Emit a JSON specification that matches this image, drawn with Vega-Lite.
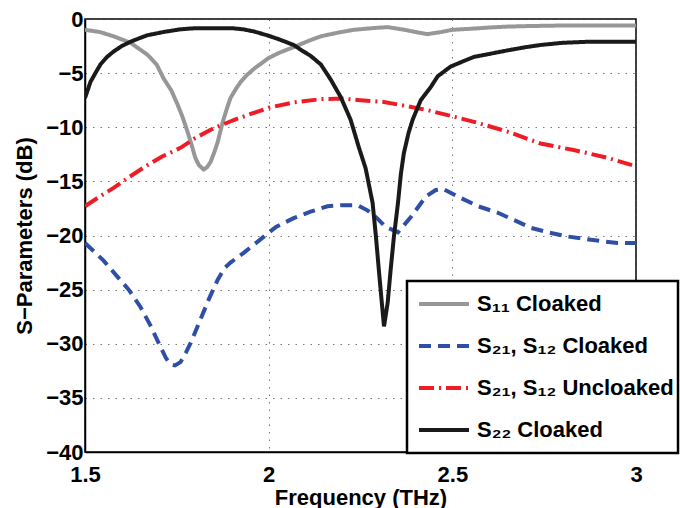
{
  "$schema": "https://vega.github.io/schema/vega-lite/v6.json",
  "width": 551,
  "height": 433,
  "autosize": {"type": "none"},
  "padding": {"left": 85, "top": 19, "right": 44, "bottom": 56},
  "background": "white",
  "config": {
    "font": "Liberation Sans",
    "view": {"stroke": "black", "strokeWidth": 1.5},
    "axis": {
      "labelFont": "Liberation Sans",
      "labelFontSize": 22,
      "labelFontWeight": "bold",
      "labelColor": "black",
      "titleFont": "Liberation Sans",
      "titleFontSize": 22,
      "titleFontWeight": "bold",
      "titleColor": "black",
      "domainColor": "black",
      "domainWidth": 1.5,
      "ticks": false,
      "gridColor": "#555555",
      "gridDash": [1.5, 6],
      "gridWidth": 1,
      "gridOpacity": 0.8
    }
  },
  "data": {
    "values": [
      {"s": "S₁₁ Cloaked", "f": 1.5, "db": -1.0},
      {"s": "S₁₁ Cloaked", "f": 1.54, "db": -1.2},
      {"s": "S₁₁ Cloaked", "f": 1.578, "db": -1.6},
      {"s": "S₁₁ Cloaked", "f": 1.624, "db": -2.2},
      {"s": "S₁₁ Cloaked", "f": 1.67, "db": -3.3},
      {"s": "S₁₁ Cloaked", "f": 1.695, "db": -4.2},
      {"s": "S₁₁ Cloaked", "f": 1.714, "db": -5.5},
      {"s": "S₁₁ Cloaked", "f": 1.735, "db": -6.6},
      {"s": "S₁₁ Cloaked", "f": 1.752, "db": -7.9},
      {"s": "S₁₁ Cloaked", "f": 1.765, "db": -9.0},
      {"s": "S₁₁ Cloaked", "f": 1.779, "db": -10.4},
      {"s": "S₁₁ Cloaked", "f": 1.79, "db": -11.6},
      {"s": "S₁₁ Cloaked", "f": 1.8, "db": -12.8},
      {"s": "S₁₁ Cloaked", "f": 1.81, "db": -13.5},
      {"s": "S₁₁ Cloaked", "f": 1.823, "db": -13.9},
      {"s": "S₁₁ Cloaked", "f": 1.832, "db": -13.7},
      {"s": "S₁₁ Cloaked", "f": 1.842, "db": -13.2},
      {"s": "S₁₁ Cloaked", "f": 1.852, "db": -12.3},
      {"s": "S₁₁ Cloaked", "f": 1.861, "db": -11.4},
      {"s": "S₁₁ Cloaked", "f": 1.875, "db": -9.5},
      {"s": "S₁₁ Cloaked", "f": 1.886, "db": -8.3},
      {"s": "S₁₁ Cloaked", "f": 1.896, "db": -7.3},
      {"s": "S₁₁ Cloaked", "f": 1.91, "db": -6.5},
      {"s": "S₁₁ Cloaked", "f": 1.924, "db": -5.8},
      {"s": "S₁₁ Cloaked", "f": 1.94, "db": -5.2},
      {"s": "S₁₁ Cloaked", "f": 1.96, "db": -4.6},
      {"s": "S₁₁ Cloaked", "f": 1.98, "db": -4.1},
      {"s": "S₁₁ Cloaked", "f": 2.0, "db": -3.6},
      {"s": "S₁₁ Cloaked", "f": 2.03, "db": -3.1},
      {"s": "S₁₁ Cloaked", "f": 2.068, "db": -2.6},
      {"s": "S₁₁ Cloaked", "f": 2.11, "db": -2.0},
      {"s": "S₁₁ Cloaked", "f": 2.142, "db": -1.6},
      {"s": "S₁₁ Cloaked", "f": 2.19, "db": -1.25},
      {"s": "S₁₁ Cloaked", "f": 2.232, "db": -1.0},
      {"s": "S₁₁ Cloaked", "f": 2.28, "db": -0.85},
      {"s": "S₁₁ Cloaked", "f": 2.324, "db": -0.75},
      {"s": "S₁₁ Cloaked", "f": 2.37, "db": -1.0},
      {"s": "S₁₁ Cloaked", "f": 2.4, "db": -1.2},
      {"s": "S₁₁ Cloaked", "f": 2.432, "db": -1.4},
      {"s": "S₁₁ Cloaked", "f": 2.47, "db": -1.2},
      {"s": "S₁₁ Cloaked", "f": 2.5, "db": -1.0},
      {"s": "S₁₁ Cloaked", "f": 2.55, "db": -0.9},
      {"s": "S₁₁ Cloaked", "f": 2.605, "db": -0.78},
      {"s": "S₁₁ Cloaked", "f": 2.65, "db": -0.7},
      {"s": "S₁₁ Cloaked", "f": 2.71, "db": -0.65},
      {"s": "S₁₁ Cloaked", "f": 2.8, "db": -0.6},
      {"s": "S₁₁ Cloaked", "f": 2.9, "db": -0.6},
      {"s": "S₁₁ Cloaked", "f": 3.0, "db": -0.6},

      {"s": "S₂₁, S₁₂ Cloaked", "f": 1.5, "db": -20.7},
      {"s": "S₂₁, S₁₂ Cloaked", "f": 1.55, "db": -22.3},
      {"s": "S₂₁, S₁₂ Cloaked", "f": 1.588, "db": -23.8},
      {"s": "S₂₁, S₁₂ Cloaked", "f": 1.619, "db": -25.0},
      {"s": "S₂₁, S₁₂ Cloaked", "f": 1.651, "db": -26.6},
      {"s": "S₂₁, S₁₂ Cloaked", "f": 1.678, "db": -28.3},
      {"s": "S₂₁, S₁₂ Cloaked", "f": 1.7, "db": -29.9},
      {"s": "S₂₁, S₁₂ Cloaked", "f": 1.72, "db": -31.3},
      {"s": "S₂₁, S₁₂ Cloaked", "f": 1.733, "db": -31.9},
      {"s": "S₂₁, S₁₂ Cloaked", "f": 1.745, "db": -32.0},
      {"s": "S₂₁, S₁₂ Cloaked", "f": 1.76, "db": -31.7},
      {"s": "S₂₁, S₁₂ Cloaked", "f": 1.775, "db": -30.8},
      {"s": "S₂₁, S₁₂ Cloaked", "f": 1.788, "db": -29.9},
      {"s": "S₂₁, S₁₂ Cloaked", "f": 1.81, "db": -28.1},
      {"s": "S₂₁, S₁₂ Cloaked", "f": 1.837, "db": -25.9},
      {"s": "S₂₁, S₁₂ Cloaked", "f": 1.861, "db": -24.1},
      {"s": "S₂₁, S₁₂ Cloaked", "f": 1.88, "db": -23.0},
      {"s": "S₂₁, S₁₂ Cloaked", "f": 1.896, "db": -22.5},
      {"s": "S₂₁, S₁₂ Cloaked", "f": 1.932, "db": -21.6},
      {"s": "S₂₁, S₁₂ Cloaked", "f": 1.987, "db": -20.1},
      {"s": "S₂₁, S₁₂ Cloaked", "f": 2.02, "db": -19.2},
      {"s": "S₂₁, S₁₂ Cloaked", "f": 2.068, "db": -18.4},
      {"s": "S₂₁, S₁₂ Cloaked", "f": 2.114, "db": -17.8},
      {"s": "S₂₁, S₁₂ Cloaked", "f": 2.16, "db": -17.3},
      {"s": "S₂₁, S₁₂ Cloaked", "f": 2.2, "db": -17.2},
      {"s": "S₂₁, S₁₂ Cloaked", "f": 2.242, "db": -17.2},
      {"s": "S₂₁, S₁₂ Cloaked", "f": 2.27, "db": -17.7},
      {"s": "S₂₁, S₁₂ Cloaked", "f": 2.295, "db": -18.4},
      {"s": "S₂₁, S₁₂ Cloaked", "f": 2.318, "db": -19.2},
      {"s": "S₂₁, S₁₂ Cloaked", "f": 2.352, "db": -19.7},
      {"s": "S₂₁, S₁₂ Cloaked", "f": 2.387, "db": -18.3},
      {"s": "S₂₁, S₁₂ Cloaked", "f": 2.428, "db": -16.4},
      {"s": "S₂₁, S₁₂ Cloaked", "f": 2.455, "db": -15.8},
      {"s": "S₂₁, S₁₂ Cloaked", "f": 2.475, "db": -15.7},
      {"s": "S₂₁, S₁₂ Cloaked", "f": 2.515, "db": -16.4},
      {"s": "S₂₁, S₁₂ Cloaked", "f": 2.57, "db": -17.3},
      {"s": "S₂₁, S₁₂ Cloaked", "f": 2.624, "db": -17.9},
      {"s": "S₂₁, S₁₂ Cloaked", "f": 2.67, "db": -18.6},
      {"s": "S₂₁, S₁₂ Cloaked", "f": 2.714, "db": -19.3},
      {"s": "S₂₁, S₁₂ Cloaked", "f": 2.76, "db": -19.7},
      {"s": "S₂₁, S₁₂ Cloaked", "f": 2.815, "db": -20.1},
      {"s": "S₂₁, S₁₂ Cloaked", "f": 2.877, "db": -20.4},
      {"s": "S₂₁, S₁₂ Cloaked", "f": 2.95, "db": -20.7},
      {"s": "S₂₁, S₁₂ Cloaked", "f": 3.0, "db": -20.7},

      {"s": "S₂₁, S₁₂ Uncloaked", "f": 1.5, "db": -17.3},
      {"s": "S₂₁, S₁₂ Uncloaked", "f": 1.54, "db": -16.4},
      {"s": "S₂₁, S₁₂ Uncloaked", "f": 1.578, "db": -15.6},
      {"s": "S₂₁, S₁₂ Uncloaked", "f": 1.62, "db": -14.6},
      {"s": "S₂₁, S₁₂ Uncloaked", "f": 1.67, "db": -13.5},
      {"s": "S₂₁, S₁₂ Uncloaked", "f": 1.71, "db": -12.7},
      {"s": "S₂₁, S₁₂ Uncloaked", "f": 1.76, "db": -11.9},
      {"s": "S₂₁, S₁₂ Uncloaked", "f": 1.8, "db": -11.0},
      {"s": "S₂₁, S₁₂ Uncloaked", "f": 1.85, "db": -10.1},
      {"s": "S₂₁, S₁₂ Uncloaked", "f": 1.9, "db": -9.4},
      {"s": "S₂₁, S₁₂ Uncloaked", "f": 1.94, "db": -8.9},
      {"s": "S₂₁, S₁₂ Uncloaked", "f": 2.0, "db": -8.2},
      {"s": "S₂₁, S₁₂ Uncloaked", "f": 2.068, "db": -7.7},
      {"s": "S₂₁, S₁₂ Uncloaked", "f": 2.142, "db": -7.4},
      {"s": "S₂₁, S₁₂ Uncloaked", "f": 2.2, "db": -7.35},
      {"s": "S₂₁, S₁₂ Uncloaked", "f": 2.25, "db": -7.5},
      {"s": "S₂₁, S₁₂ Uncloaked", "f": 2.31, "db": -7.65},
      {"s": "S₂₁, S₁₂ Uncloaked", "f": 2.368, "db": -8.0},
      {"s": "S₂₁, S₁₂ Uncloaked", "f": 2.43, "db": -8.4},
      {"s": "S₂₁, S₁₂ Uncloaked", "f": 2.49, "db": -8.9},
      {"s": "S₂₁, S₁₂ Uncloaked", "f": 2.559, "db": -9.5},
      {"s": "S₂₁, S₁₂ Uncloaked", "f": 2.65, "db": -10.4},
      {"s": "S₂₁, S₁₂ Uncloaked", "f": 2.74, "db": -11.5},
      {"s": "S₂₁, S₁₂ Uncloaked", "f": 2.83, "db": -12.1},
      {"s": "S₂₁, S₁₂ Uncloaked", "f": 2.92, "db": -12.8},
      {"s": "S₂₁, S₁₂ Uncloaked", "f": 3.0, "db": -13.6},

      {"s": "S₂₂ Cloaked", "f": 1.5, "db": -7.3},
      {"s": "S₂₂ Cloaked", "f": 1.515, "db": -5.8},
      {"s": "S₂₂ Cloaked", "f": 1.53, "db": -4.9},
      {"s": "S₂₂ Cloaked", "f": 1.542, "db": -4.2},
      {"s": "S₂₂ Cloaked", "f": 1.56, "db": -3.5},
      {"s": "S₂₂ Cloaked", "f": 1.578, "db": -3.0},
      {"s": "S₂₂ Cloaked", "f": 1.6, "db": -2.5},
      {"s": "S₂₂ Cloaked", "f": 1.624, "db": -2.1},
      {"s": "S₂₂ Cloaked", "f": 1.65, "db": -1.75},
      {"s": "S₂₂ Cloaked", "f": 1.67, "db": -1.5},
      {"s": "S₂₂ Cloaked", "f": 1.714, "db": -1.2},
      {"s": "S₂₂ Cloaked", "f": 1.76, "db": -0.95},
      {"s": "S₂₂ Cloaked", "f": 1.8, "db": -0.85},
      {"s": "S₂₂ Cloaked", "f": 1.85, "db": -0.85},
      {"s": "S₂₂ Cloaked", "f": 1.9, "db": -0.85},
      {"s": "S₂₂ Cloaked", "f": 1.93, "db": -0.95},
      {"s": "S₂₂ Cloaked", "f": 1.96, "db": -1.15},
      {"s": "S₂₂ Cloaked", "f": 2.0, "db": -1.55},
      {"s": "S₂₂ Cloaked", "f": 2.03, "db": -1.9},
      {"s": "S₂₂ Cloaked", "f": 2.068, "db": -2.4},
      {"s": "S₂₂ Cloaked", "f": 2.09, "db": -2.9},
      {"s": "S₂₂ Cloaked", "f": 2.114, "db": -3.4},
      {"s": "S₂₂ Cloaked", "f": 2.142, "db": -4.2},
      {"s": "S₂₂ Cloaked", "f": 2.169, "db": -5.6},
      {"s": "S₂₂ Cloaked", "f": 2.196, "db": -7.2},
      {"s": "S₂₂ Cloaked", "f": 2.223, "db": -9.3},
      {"s": "S₂₂ Cloaked", "f": 2.245, "db": -11.8},
      {"s": "S₂₂ Cloaked", "f": 2.264, "db": -13.8},
      {"s": "S₂₂ Cloaked", "f": 2.283, "db": -17.0},
      {"s": "S₂₂ Cloaked", "f": 2.292, "db": -20.1},
      {"s": "S₂₂ Cloaked", "f": 2.3, "db": -23.2},
      {"s": "S₂₂ Cloaked", "f": 2.308, "db": -26.2},
      {"s": "S₂₂ Cloaked", "f": 2.314, "db": -28.4},
      {"s": "S₂₂ Cloaked", "f": 2.324, "db": -26.2},
      {"s": "S₂₂ Cloaked", "f": 2.332, "db": -23.2},
      {"s": "S₂₂ Cloaked", "f": 2.341, "db": -20.1},
      {"s": "S₂₂ Cloaked", "f": 2.352, "db": -17.0},
      {"s": "S₂₂ Cloaked", "f": 2.36, "db": -14.3},
      {"s": "S₂₂ Cloaked", "f": 2.368, "db": -12.4},
      {"s": "S₂₂ Cloaked", "f": 2.381, "db": -10.5},
      {"s": "S₂₂ Cloaked", "f": 2.392, "db": -9.3},
      {"s": "S₂₂ Cloaked", "f": 2.414, "db": -7.5},
      {"s": "S₂₂ Cloaked", "f": 2.441, "db": -6.3},
      {"s": "S₂₂ Cloaked", "f": 2.46, "db": -5.3},
      {"s": "S₂₂ Cloaked", "f": 2.495, "db": -4.4},
      {"s": "S₂₂ Cloaked", "f": 2.53, "db": -3.9},
      {"s": "S₂₂ Cloaked", "f": 2.559, "db": -3.5},
      {"s": "S₂₂ Cloaked", "f": 2.605, "db": -3.2},
      {"s": "S₂₂ Cloaked", "f": 2.65, "db": -2.9},
      {"s": "S₂₂ Cloaked", "f": 2.7, "db": -2.6},
      {"s": "S₂₂ Cloaked", "f": 2.74, "db": -2.4},
      {"s": "S₂₂ Cloaked", "f": 2.8, "db": -2.2},
      {"s": "S₂₂ Cloaked", "f": 2.87, "db": -2.1},
      {"s": "S₂₂ Cloaked", "f": 3.0, "db": -2.1}
    ]
  },
  "mark": {"type": "line", "strokeWidth": 4, "clip": true},
  "encoding": {
    "x": {
      "field": "f", "type": "quantitative",
      "scale": {"domain": [1.5, 3], "nice": false, "zero": false},
      "axis": {"values": [1.5, 2, 2.5, 3], "format": "~g", "title": "Frequency (THz)", "labelPadding": 12, "titlePadding": 2, "labelFlush": false}
    },
    "y": {
      "field": "db", "type": "quantitative",
      "scale": {"domain": [-40, 0], "nice": false, "zero": false},
      "axis": {"values": [-40, -35, -30, -25, -20, -15, -10, -5, 0], "title": "S−Parameters (dB)", "labelPadding": 2, "titlePadding": 9}
    },
    "color": {
      "field": "s", "type": "nominal",
      "scale": {
        "domain": ["S₁₁ Cloaked", "S₂₁, S₁₂ Cloaked", "S₂₁, S₁₂ Uncloaked", "S₂₂ Cloaked"],
        "range": ["#979797", "#2f4fa6", "#ee1c24", "#1a1a1a"]
      },
      "legend": {
        "orient": "none",
        "legendX": 322,
        "legendY": 262,
        "title": null,
        "fillColor": "white",
        "strokeColor": "black",
        "padding": 4,
        "symbolType": "stroke",
        "symbolSize": 2500,
        "symbolStrokeWidth": 4,
        "symbolOffset": 6,
        "clipHeight": 38,
        "rowPadding": 4,
        "labelOffset": 6,
        "labelFont": "Liberation Sans",
        "labelFontSize": 22,
        "labelFontWeight": "bold",
        "labelColor": "black",
        "labelLimit": 400,
        "encode": {"legend": {"update": {"strokeWidth": {"value": 2.5}}}}
      }
    },
    "strokeDash": {
      "field": "s", "type": "nominal",
      "scale": {
        "domain": ["S₁₁ Cloaked", "S₂₁, S₁₂ Cloaked", "S₂₁, S₁₂ Uncloaked", "S₂₂ Cloaked"],
        "range": [[1, 0], [12, 7], [15, 5, 2, 5], [1, 0]]
      },
      "legend": null
    }
  }
}
